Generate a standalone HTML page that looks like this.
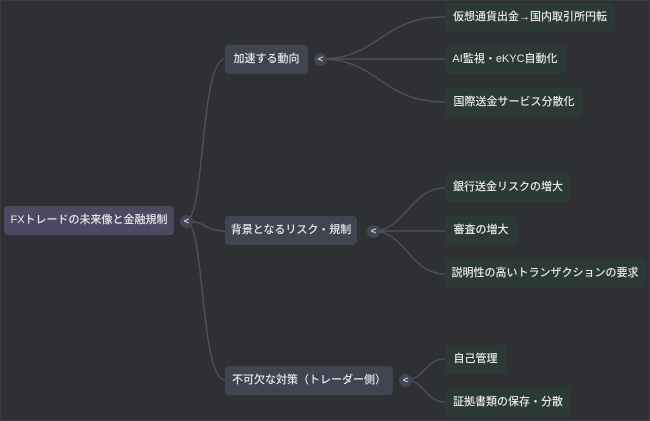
<!DOCTYPE html>
<html><head><meta charset="utf-8"><style>
body{margin:0;width:650px;height:421px;background:#2f3034;overflow:hidden;font-family:"Liberation Sans","Noto Sans CJK JP",sans-serif;position:relative}
.n{position:absolute;height:29px;line-height:29px;color:#e8e8ec;font-size:11px;border-radius:4px;padding:0;text-align:center;box-sizing:border-box;white-space:nowrap;font-weight:500}
.r{background:#4b4a60}
.m{background:#414552}
.l{background:#2b3a35}
.t{position:absolute;width:13px;height:13px;border-radius:50%;background:#444656;color:#ddd;font-size:9px;line-height:13px;text-align:center;font-weight:bold}
</style></head><body>
<div style="position:absolute;inset:0;border:1px solid #3a3b40"></div>
<svg width="650" height="421" style="position:absolute;left:0;top:0" fill="none" stroke="#4c4e5c" stroke-width="1.5">
<path d="M186 221 C205 221,200 59,225 59"/>
<path d="M186 221 C205 221,205 231,225 231"/>
<path d="M186 221 C205 221,200 380,225 380"/>
<path d="M320 59 C380 59,380 17,445 17"/>
<path d="M320 59 L445 59"/>
<path d="M320 59 C380 59,380 102,445 102"/>
<path d="M373 231 C405 231,410 188,445 188"/>
<path d="M373 231 L445 231"/>
<path d="M373 231 C405 231,410 274,445 274"/>
<path d="M405 380 C425 380,425 359,445 359"/>
<path d="M405 380 C425 380,425 402,445 402"/>
</svg>
<div class="n r" style="left:4px;top:206px;width:170px">FXトレードの未来像と金融規制</div>
<div class="t" style="left:180px;top:215px">&lt;</div>
<div class="n m" style="left:225px;top:45px;width:83px">加速する動向</div>
<div class="t" style="left:314px;top:53px">&lt;</div>
<div class="n m" style="left:225px;top:216px;width:132px">背景となるリスク・規制</div>
<div class="t" style="left:367px;top:225px">&lt;</div>
<div class="n m" style="left:225px;top:366px;width:168px">不可欠な対策（トレーダー側）</div>
<div class="t" style="left:399px;top:374px">&lt;</div>
<div class="n l" style="left:445px;top:3px;width:170px">仮想通貨出金→国内取引所円転</div>
<div class="n l" style="left:445px;top:45px;width:120px">AI監視・eKYC自動化</div>
<div class="n l" style="left:445px;top:88px;width:138px">国際送金サービス分散化</div>
<div class="n l" style="left:445px;top:173px;width:126px">銀行送金リスクの増大</div>
<div class="n l" style="left:445px;top:216px;width:72px">審査の増大</div>
<div class="n l" style="left:445px;top:259px;width:200px">説明性の高いトランザクションの要求</div>
<div class="n l" style="left:445px;top:345px;width:61px">自己管理</div>
<div class="n l" style="left:445px;top:388px;width:126px">証拠書類の保存・分散</div>
</body></html>
